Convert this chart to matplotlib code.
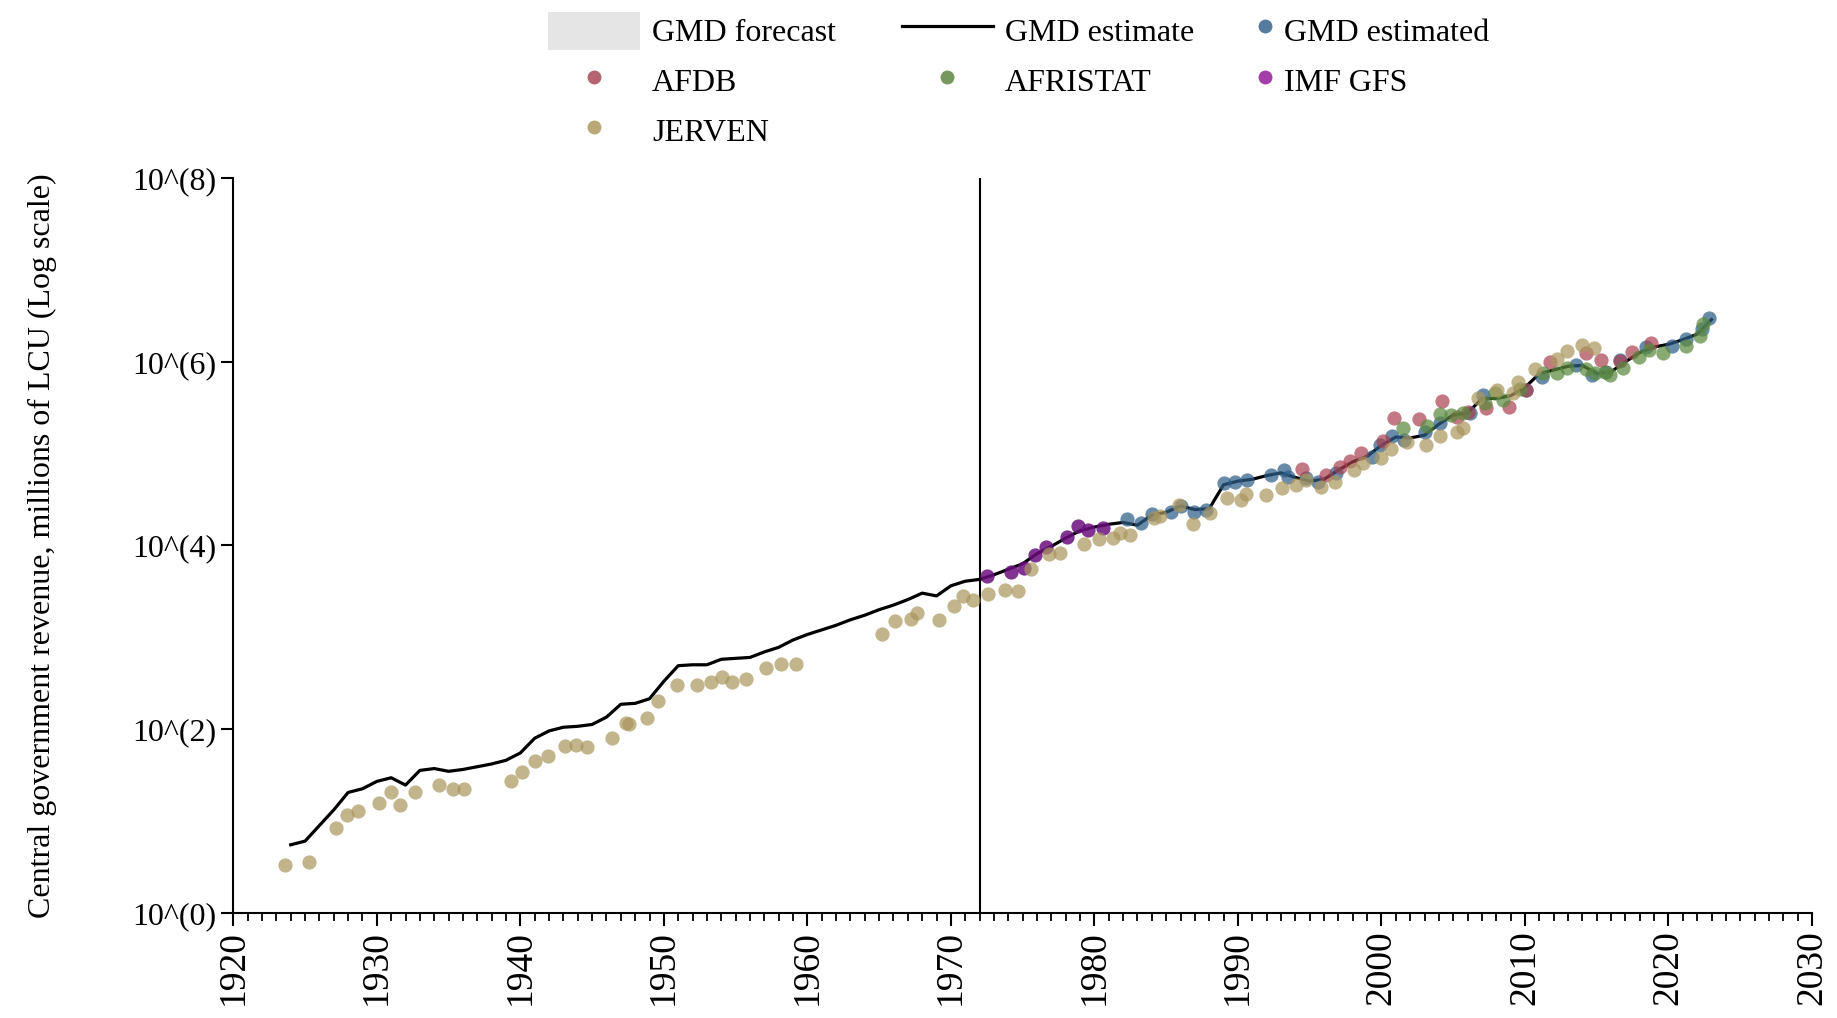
import matplotlib
matplotlib.use('Agg')
import matplotlib.pyplot as plt
from matplotlib.lines import Line2D
from matplotlib.patches import Patch
from matplotlib.ticker import FixedLocator, MultipleLocator, NullLocator
import numpy as np

plt.rcParams['font.family'] = ['Liberation Serif', 'DejaVu Serif']

# GMD estimate (log10 of millions of LCU)
line_years = list(range(1924, 2024))
line_log = [0.74, 0.78, 0.95, 1.12, 1.31, 1.35, 1.43, 1.47, 1.39, 1.55,
            1.57, 1.54, 1.56, 1.59, 1.62, 1.66, 1.74, 1.90, 1.98, 2.02,
            2.03, 2.05, 2.13, 2.27, 2.28, 2.33, 2.52, 2.69, 2.70, 2.70,
            2.76, 2.77, 2.78, 2.84, 2.89, 2.97, 3.03, 3.08, 3.13, 3.19,
            3.24, 3.30, 3.35, 3.41, 3.48, 3.45, 3.56, 3.61, 3.63, 3.68,
            3.74, 3.80, 3.91, 3.99, 4.08, 4.16, 4.20, 4.23, 4.25, 4.22,
            4.33, 4.36, 4.43, 4.39, 4.40, 4.66, 4.70, 4.72, 4.76, 4.79,
            4.74, 4.70, 4.72, 4.82, 4.91, 4.97, 5.09, 5.18, 5.17, 5.20,
            5.32, 5.42, 5.44, 5.60, 5.60, 5.63, 5.72, 5.87, 5.91, 5.95,
            5.96, 5.87, 5.89, 6.00, 6.10, 6.16, 6.19, 6.24, 6.30, 6.46]

est_years = [1982.27, 1983.24, 1984.00, 1985.37, 1986.02, 1986.95, 1987.80, 1989.03,
             1989.80, 1990.60, 1992.27, 1993.24, 1993.48, 1994.77, 1995.6, 1996.86,
             1999.35, 1999.92, 2000.74, 2001.6, 2003.04, 2004.09, 2006.17, 2007.1,
             2010.07, 2011.17, 2013.55, 2014.64, 2015.67, 2016.6, 2018.4, 2020.26,
             2021.2, 2022.3, 2022.8]
est_log = [4.283, 4.240, 4.337, 4.362, 4.428, 4.362, 4.388, 4.675,
           4.693, 4.711, 4.766, 4.820, 4.741, 4.730, 4.693, 4.784,
           4.965, 5.092, 5.19, 5.146, 5.237, 5.328, 5.437, 5.636,
           5.69, 5.836, 5.963, 5.854, 5.89, 6.017, 6.162, 6.17,
           6.243, 6.352, 6.472]

afdb_years = [1994.48, 1996.16, 1997.09, 1997.79, 1998.58, 2000.08, 2000.85, 2002.59,
              2004.2, 2005.25, 2006.06, 2007.29, 2008.9, 2010.06, 2011.77, 2014.27,
              2015.3, 2016.65, 2017.48, 2018.8]
afdb_log = [4.827, 4.765, 4.856, 4.918, 5.001, 5.139, 5.389, 5.372,
            5.574, 5.393, 5.455, 5.495, 5.502, 5.691, 5.999, 6.097,
            6.017, 6.01, 6.108, 6.20]

afristat_years = [2001.5, 2003.16, 2004.09, 2004.83, 2005.71, 2007.2, 2007.9, 2008.5,
                  2009.65, 2011.27, 2012.2, 2012.95, 2014.24, 2014.87, 2015.6, 2015.9,
                  2016.8, 2017.96, 2018.65, 2019.6, 2021.22, 2022.2, 2022.4]
afristat_log = [5.274, 5.302, 5.43, 5.419, 5.437, 5.546, 5.655, 5.582,
                5.698, 5.873, 5.873, 5.927, 5.916, 5.873, 5.89, 5.854,
                5.927, 6.053, 6.126, 6.09, 6.17, 6.279, 6.41]

imf_years = [1972.5, 1974.2, 1975.1, 1975.85, 1976.6, 1978.07, 1978.86, 1979.55, 1980.6]
imf_log = [3.666, 3.71, 3.75, 3.894, 3.985, 4.087, 4.21, 4.167, 4.19]

jerven_years = [1923.6, 1925.26, 1927.19, 1927.92, 1928.69, 1930.15, 1930.96, 1931.63,
                1932.67, 1934.32, 1935.29, 1936.1, 1939.34, 1940.1, 1941.0, 1941.9,
                1943.13, 1943.86, 1944.67, 1946.36, 1947.33, 1947.57, 1948.8, 1949.6,
                1950.9, 1952.3, 1953.3, 1954.05, 1954.75, 1955.72, 1957.14, 1958.18,
                1959.22, 1965.2, 1966.14, 1967.2, 1967.65, 1969.16, 1970.22, 1970.85,
                1971.55, 1972.6, 1973.8, 1974.67, 1975.6, 1976.87, 1977.57, 1979.26,
                1980.35, 1981.27, 1981.81, 1982.50, 1984.15, 1984.59, 1985.91, 1986.90,
                1988.06, 1989.21, 1990.19, 1990.58, 1991.99, 1993.04, 1994.08, 1994.77,
                1995.77, 1996.75, 1998.1, 1998.68, 1999.97, 2000.68, 2001.77, 2003.1,
                2004.05, 2005.25, 2005.71, 2006.75, 2008.03, 2009.19, 2009.53, 2010.69,
                2012.2, 2012.9, 2014.0, 2014.79]
jerven_log = [0.52, 0.555, 0.92, 1.06, 1.11, 1.19, 1.31, 1.17,
              1.31, 1.39, 1.35, 1.35, 1.43, 1.53, 1.655, 1.71,
              1.82, 1.83, 1.80, 1.90, 2.07, 2.06, 2.12, 2.31,
              2.48, 2.48, 2.51, 2.57, 2.515, 2.55, 2.67, 2.71,
              2.705, 3.04, 3.18, 3.20, 3.26, 3.19, 3.34, 3.45,
              3.40, 3.47, 3.51, 3.505, 3.74, 3.905, 3.92, 4.01,
              4.065, 4.083, 4.131, 4.112, 4.293, 4.321, 4.437, 4.237,
              4.352, 4.519, 4.497, 4.562, 4.544, 4.623, 4.653, 4.711,
              4.638, 4.693, 4.82, 4.90, 4.954, 5.045, 5.121, 5.092,
              5.19, 5.237, 5.274, 5.60, 5.691, 5.655, 5.781, 5.916,
              6.025, 6.119, 6.181, 6.145]

forecast_start = 1972
x_ticks = list(range(1920, 2031, 10))
y_ticks = [0, 2, 4, 6, 8]

fig = plt.figure(figsize=(18.37, 10.18), dpi=100)
ax = fig.add_axes([0.127, 0.1034, 0.8594, 0.7217])

ax.plot(line_years, np.power(10.0, line_log), color='black', lw=2.3, zorder=2)
ax.axvline(forecast_start, color='black', lw=1.5, zorder=1)

ms = 105
ax.scatter(est_years, np.power(10.0, est_log), s=ms, color='#2f5f8a', alpha=0.72, lw=0, zorder=3)
ax.scatter(afdb_years, np.power(10.0, afdb_log), s=ms, color='#a8404f', alpha=0.7, lw=0, zorder=3)
ax.scatter(imf_years, np.power(10.0, imf_log), s=ms, color='#6a0f7e', alpha=0.85, lw=0, zorder=3)
ax.scatter(afristat_years, np.power(10.0, afristat_log), s=ms, color='#5c8a3e', alpha=0.72, lw=0, zorder=3)
ax.scatter(jerven_years, np.power(10.0, jerven_log), s=ms, color='#ab975f', alpha=0.72, lw=0, zorder=3)

ax.set_yscale('log')
ax.set_xlim(1920, 2030)
ax.set_ylim(1, 1e8)
ax.yaxis.set_major_locator(FixedLocator([10.0 ** k for k in y_ticks]))
ax.yaxis.set_minor_locator(NullLocator())
ax.set_yticklabels(['10^(%d)' % k for k in y_ticks])
ax.set_xticks(x_ticks)
ax.set_xticklabels([str(t) for t in x_ticks], rotation=90)
ax.xaxis.set_minor_locator(MultipleLocator(1))
ax.tick_params(axis='both', which='major', labelsize=23, length=9, width=1.5, direction='out')
ax.tick_params(axis='x', which='major', labelsize=27)
ax.tick_params(axis='x', which='minor', length=6, width=1.3, direction='out')
ax.spines['top'].set_visible(False)
ax.spines['right'].set_visible(False)
for s in ['left', 'bottom']:
    ax.spines[s].set_linewidth(1.5)
ax.set_ylabel('Central government revenue, millions of LCU (Log scale)', fontsize=23, labelpad=54)

# legend, three columns laid out separately
common = dict(frameon=False, fontsize=23, borderpad=0, borderaxespad=0,
              handleheight=1.45, labelspacing=0.38, loc='upper left')


def dot(c):
    return Line2D([], [], ls='none', marker='o', markersize=9, color=c)


col1 = [Patch(facecolor='#e5e5e5', edgecolor='none'), dot('#b46570'), dot('#b9a878')]
fig.legend(col1, ['GMD forecast', 'AFDB', 'JERVEN'], bbox_to_anchor=(0.2983, 0.9885),
           handlelength=2.88, handletextpad=0.38, **common)
col2 = [Line2D([], [], color='black', lw=2.3), dot('#76985e')]
fig.legend(col2, ['GMD estimate', 'AFRISTAT'], bbox_to_anchor=(0.491, 0.9885),
           handlelength=2.85, handletextpad=0.38, **common)
col3 = [dot('#557b9e'), dot('#a23fa8')]
fig.legend(col3, ['GMD estimated', 'IMF GFS'], bbox_to_anchor=(0.6843, 0.9885),
           handlelength=0.5, handletextpad=0.35, **common)

fig.savefig('out.png', dpi=100)
